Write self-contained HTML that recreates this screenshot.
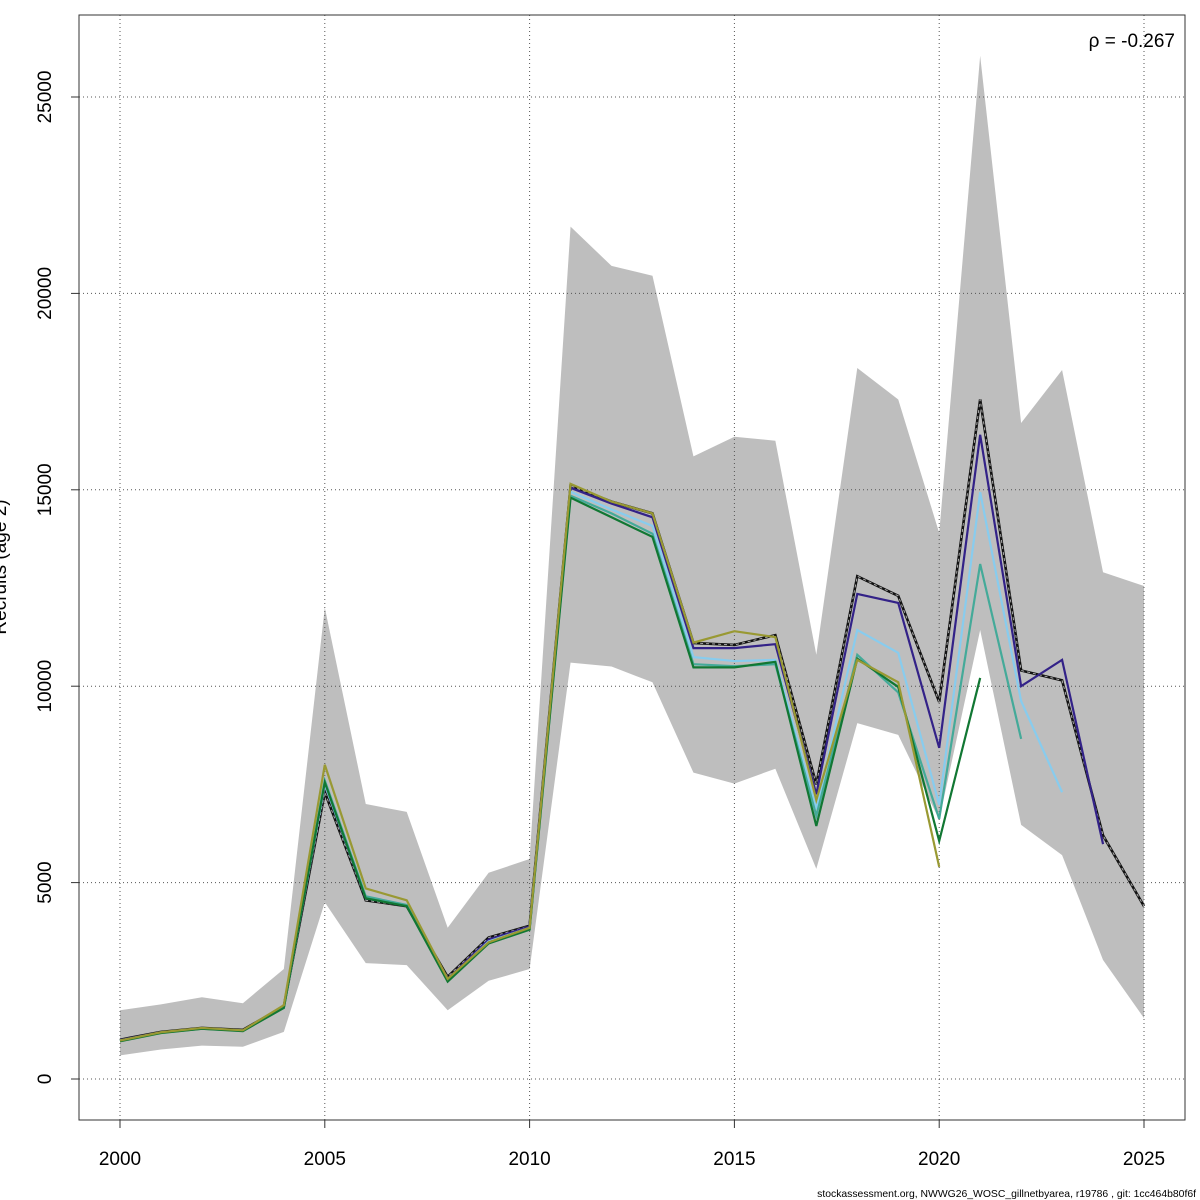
<!DOCTYPE html>
<html><head><meta charset="utf-8"><style>
html,body{margin:0;padding:0;background:#fff;}
svg{display:block;font-family:"Liberation Sans",sans-serif;}
</style></head><body>
<svg id="chart" width="1200" height="1200" viewBox="0 0 1200 1200" xmlns="http://www.w3.org/2000/svg">
<g id="band"></g>
<g id="grid"></g>
<g id="lines"></g>
<g id="axes"></g>
<text x="1175" y="47" text-anchor="end" font-size="19">ρ = -0.267</text>
<text x="-567" y="6" transform="rotate(-90)" text-anchor="middle" font-size="19">Recruits (age 2)</text>
<text x="615" y="1214" text-anchor="middle" font-size="19">Year</text>
<text x="1196" y="1197" text-anchor="end" font-size="10.4">stockassessment.org, NWWG26_WOSC_gillnetbyarea, r19786 , git: 1cc464b80f6f</text>
</svg>
<script>
const years = [2000,2001,2002,2003,2004,2005,2006,2007,2008,2009,2010,2011,2012,2013,2014,2015,2016,2017,2018,2019,2020,2021,2022,2023,2024,2025];
const upper = [1750,1900,2080,1930,2800,12000,7000,6800,3850,5250,5600,21700,20700,20450,15850,16350,16250,10800,18100,17300,13900,26050,16700,18050,12900,12550];
const lower = [600,750,850,820,1200,4500,2950,2900,1750,2500,2800,10600,10500,10100,7800,7520,7900,5350,9060,8760,6600,11430,6470,5700,3030,1550];
const base = [1000,1200,1300,1250,1850,7300,4550,4400,2600,3600,3900,15100,14700,14400,11100,11050,11300,7500,12800,12300,9600,17300,10400,10150,6200,4400];
const peel1 = [990,1190,1290,1240,1840,7500,4600,4420,2550,3550,3880,15050,14650,14300,10970,10970,11070,7250,12350,12120,8430,16400,10000,10670,5980];
const peel2 = [980,1180,1290,1230,1830,7500,4620,4420,2520,3500,3850,14950,14500,14080,10740,10640,10670,6870,11430,10850,6980,14940,9620,7300];
const peel3 = [970,1180,1280,1230,1820,7600,4650,4430,2500,3480,3830,14850,14400,13880,10560,10510,10560,6700,10800,9840,6620,13110,8660];
const peel4 = [960,1170,1280,1220,1810,7550,4600,4400,2480,3450,3800,14800,14300,13800,10480,10480,10620,6440,10700,9980,6060,10210];
const peel5 = [980,1190,1300,1240,1880,8000,4850,4550,2550,3480,3850,15150,14700,14400,11110,11400,11250,7100,10670,10100,5400];
const xTicks = [2000,2005,2010,2015,2020,2025];
const yTicks = [0,5000,10000,15000,20000,25000];

const NS="http://www.w3.org/2000/svg";
const X0=79,X1=1185,Y0=15,Y1=1120;
const xs = y => 120 + (y-2000)*40.96;
const ys = v => 1079 - v*0.03928;
function mk(tag,attrs,parent){const e=document.createElementNS(NS,tag);for(const k in attrs)e.setAttribute(k,attrs[k]);parent.appendChild(e);return e;}

const band=document.getElementById('band');
let d='';
years.forEach((y,i)=>{d+=(i?'L':'M')+xs(y)+','+ys(upper[i]);});
for(let i=years.length-1;i>=0;i--)d+='L'+xs(years[i])+','+ys(lower[i]);
const poly=mk('path',{d:d+'Z',fill:'#bebebe'},band);



const grid=document.getElementById('grid');
xTicks.forEach(t=>{const l=mk('line',{x1:xs(t),x2:xs(t),y1:Y0,y2:Y1,stroke:'#555','stroke-width':1,'stroke-dasharray':'1,3'},grid);

});
yTicks.forEach(t=>{const l=mk('line',{x1:X0,x2:X1,y1:ys(t),y2:ys(t),stroke:'#555','stroke-width':1,'stroke-dasharray':'1,3'},grid);

});

const linesG=document.getElementById('lines');
function series(vals,color,name,w){
  let p='';vals.forEach((v,i)=>{p+=(i?'L':'M')+xs(years[i])+','+ys(v);});
  const e=mk('path',{d:p,fill:'none',stroke:color,'stroke-width':w,'stroke-linejoin':'miter'},linesG);
  
  
  return p;
}
const bp=series(base,'#111','base-line',2.6);
const dash=mk('path',{d:bp,fill:'none',stroke:'#aaa','stroke-width':1,'stroke-dasharray':'3,3'},linesG);


series(peel1,'#332288','peel-1-line',2.2);
series(peel2,'#88CCEE','peel-2-line',2.2);
series(peel3,'#44AA99','peel-3-line',2.2);
series(peel4,'#117733','peel-4-line',2.2);
series(peel5,'#999933','peel-5-line',2.2);

const axes=document.getElementById('axes');
const box=mk('rect',{x:X0,y:Y0,width:X1-X0,height:Y1-Y0,fill:'none',stroke:'#333','stroke-width':1},axes);


xTicks.forEach(t=>{
  const tk=mk('line',{x1:xs(t),x2:xs(t),y1:Y1,y2:Y1+8,stroke:'#333'},axes);
  
  
  const tx=mk('text',{x:xs(t),y:1165,'text-anchor':'middle','font-size':19},axes);tx.textContent=t;
  
  
});
yTicks.forEach(t=>{
  const tk=mk('line',{x1:X0-8,x2:X0,y1:ys(t),y2:ys(t),stroke:'#333'},axes);
  
  
  const tx=mk('text',{x:51,y:ys(t),'text-anchor':'middle','font-size':19,transform:'rotate(-90 51 '+ys(t)+')'},axes);tx.textContent=t;
  
  
});
</script>
</body></html>
